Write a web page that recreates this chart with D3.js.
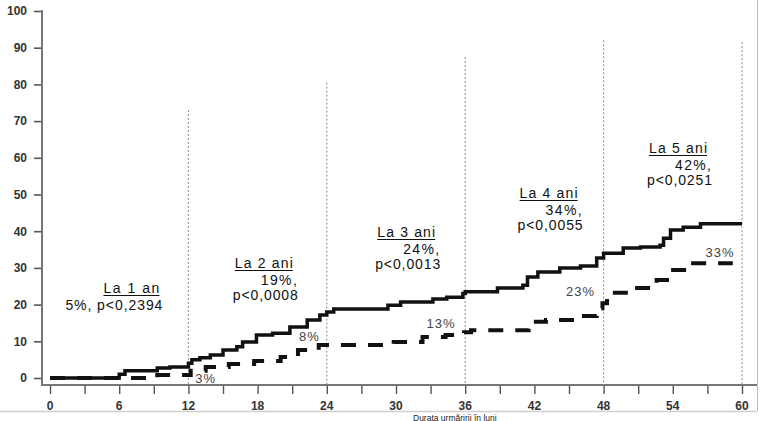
<!DOCTYPE html>
<html>
<head>
<meta charset="utf-8">
<script src="https://cdn.jsdelivr.net/npm/d3@7/dist/d3.min.js"></script>
<style>
  html, body { margin: 0; padding: 0; background: #fff; }
  svg { display: block; }
</style>
</head>
<body>
<svg id="chart" width="764" height="421"></svg>
<script>
// ---------- DATA ----------
const yTickValues = [0, 10, 20, 30, 40, 50, 60, 70, 80, 90, 100];
const xTickValues = [0, 3, 6, 9, 12, 15, 18, 21, 24, 27, 30, 33, 36, 39, 42, 45, 48, 51, 54, 57, 60];
const xLabelValues = [0, 6, 12, 18, 24, 30, 36, 42, 48, 54, 60];

// Solid curve (cumulative %, months)
const solidMonths = [0, 6, 6.5, 9.3, 10.4, 12, 12.3, 13, 13.9, 15, 16.2, 16.7, 17.9, 19.3, 20.8, 22.3, 23.4, 24, 24.6, 29.3, 30.4, 33.2, 34.4, 35.8, 36, 38.8, 41, 41.4, 42.3, 44.2, 46, 47.4, 48, 49.7, 51.2, 52.9, 53.2, 53.8, 54.9, 56.4, 60];
const solidValues = [0, 1, 2, 2.7, 3, 4, 5, 5.5, 6.3, 7.6, 8.5, 9.8, 11.7, 12.2, 13.9, 15.8, 17.2, 18, 18.8, 19.8, 20.7, 21.5, 22, 23, 23.5, 24.5, 25.3, 27.5, 28.9, 30, 30.5, 32.7, 34, 35.4, 35.7, 36.2, 38.1, 40.3, 41.1, 42, 42];

// Dashed curve
const dashedMonths = [0, 9.3, 12.2, 13.5, 15.5, 17.7, 20, 21.5, 23.3, 29.8, 32.3, 34.3, 35.9, 36.5, 41.5, 43, 45.7, 47.4, 47.9, 48.3, 50.5, 52.6, 53.8, 55.5, 59.2];
const dashedValues = [0, 0.8, 2, 3, 3.8, 4.6, 5.7, 7.6, 9, 9.8, 11.2, 11.7, 12.5, 13, 15.3, 15.8, 16.9, 19, 20.4, 23.2, 24.5, 26.7, 29.4, 31.3, 31.3];

// Milestone guide lines (month, top %)
const guideMonths = [12, 24, 36, 48, 60];
const guideTops = [73, 80.5, 87.5, 92, 91.5];

// Annotations per milestone
const annotTitles = ["La 1 an", "La 2 ani", "La 3 ani", "La 4 ani", "La 5 ani"];
const annotPct = ["5%,", "19%,", "24%,", "34%,", "42%,"];
const annotP = ["p<0,2394", "p<0,0008", "p<0,0013", "p<0,0055", "p<0,0251"];

// Percent labels of dashed curve
const dashLabels = ["3%", "8%", "13%", "23%", "33%"];
const dashLabelMonths = [13.5, 22.5, 33.9, 46, 58.1];
const dashLabelValues = [-1.4, 10, 13.5, 22.3, 33];

// ---------- DRAW ----------
const svg = d3.select("#chart");
const x = d3.scaleLinear().domain([0, 60]).range([50, 742]);
const y = d3.scaleLinear().domain([0, 100]).range([378, 11]);
const axisY = 385, axisX = 42;
const tickFont = "'Liberation Sans Narrow', 'Arial Narrow', 'Liberation Sans', sans-serif";
const txtFont = "'Liberation Sans', Arial, sans-serif";

// frame lines
svg.append("line").attr("x1", 0).attr("x2", 757).attr("y1", 411.5).attr("y2", 411.5)
  .attr("stroke", "#cfcfcf").attr("stroke-width", 1.5);
svg.append("line").attr("x1", 757.5).attr("x2", 757.5).attr("y1", 0).attr("y2", 411)
  .attr("stroke", "#bdbdbd").attr("stroke-width", 1);

// guide lines
svg.append("g").selectAll("line").data(guideMonths).join("line")
  .attr("x1", d => x(d)).attr("x2", d => x(d))
  .attr("y1", (d, i) => y(guideTops[i])).attr("y2", axisY)
  .attr("stroke", "#8a8a8a").attr("stroke-width", 1).attr("stroke-dasharray", "2,2");

// y axis
const gy = svg.append("g").attr("transform", `translate(${axisX},0)`)
  .call(d3.axisLeft(y).tickValues(yTickValues).tickSize(8).tickPadding(7));
gy.select(".domain").remove();
gy.selectAll(".tick line").attr("stroke", "#555").attr("stroke-width", 1.6);
gy.selectAll(".tick text").attr("font-family", tickFont).attr("font-weight", "bold")
  .attr("font-size", 12).attr("fill", "#333");
svg.append("line").attr("x1", axisX).attr("x2", axisX).attr("y1", 10).attr("y2", axisY + 1)
  .attr("stroke", "#777").attr("stroke-width", 2);

// x axis
const gx = svg.append("g").attr("transform", `translate(0,${axisY})`)
  .call(d3.axisBottom(x).tickValues(xTickValues).tickSize(9).tickFormat(""));
gx.select(".domain").remove();
gx.selectAll(".tick line").attr("stroke", "#555").attr("stroke-width", 1.4);
svg.append("line").attr("x1", axisX - 1).attr("x2", 757).attr("y1", axisY).attr("y2", axisY)
  .attr("stroke", "#777").attr("stroke-width", 2);
svg.append("g").selectAll("text").data(xLabelValues).join("text")
  .attr("x", d => x(d)).attr("y", 409.5).attr("text-anchor", "middle")
  .attr("font-family", tickFont).attr("font-weight", "bold").attr("font-size", 12)
  .attr("fill", "#333").text(d => d);

// curves
const line = d3.line().curve(d3.curveStepAfter).x(d => x(d[0])).y(d => y(d[1]));
const dashedData = dashedMonths.map((m, i) => [m, dashedValues[i]]);
const solidData = solidMonths.map((m, i) => [m, solidValues[i]]);
svg.append("path").datum(dashedData).attr("d", line).attr("fill", "none")
  .attr("stroke", "#111").attr("stroke-width", 4).attr("stroke-dasharray", "15,12");
svg.append("path").datum(solidData).attr("d", line).attr("fill", "none")
  .attr("stroke", "#111").attr("stroke-width", 3.5);

// dashed-curve labels
svg.append("g").selectAll("text").data(dashLabels).join("text")
  .attr("x", (d, i) => x(dashLabelMonths[i])).attr("y", (d, i) => y(dashLabelValues[i]))
  .attr("text-anchor", "middle").attr("font-family", tickFont).attr("font-size", 13)
  .attr("fill", "#444").attr("letter-spacing", 1).text(d => d);

// annotations: layout offsets relative to milestone guide
const annotRightOff = [-26, -29, -25, -21, -30];
const annotBase = [293, 268, 237, 198, 153];
const titleW = [56, 58, 58, 58, 58];
const g = svg.append("g").attr("font-family", txtFont).attr("font-size", 14).attr("fill", "#111");
annotTitles.forEach((t, i) => {
  const right = x(guideMonths[i]) + annotRightOff[i];
  const base = annotBase[i];
  if (i === 0) {
    const cx = right - 31;
    g.append("text").attr("x", cx).attr("y", base).attr("text-anchor", "middle")
      .attr("textLength", titleW[i]).attr("lengthAdjust", "spacing").text(t);
    g.append("line").attr("x1", cx - titleW[i] / 2).attr("x2", cx + titleW[i] / 2)
      .attr("y1", base + 2.5).attr("y2", base + 2.5).attr("stroke", "#111").attr("stroke-width", 1.2);
    g.append("text").attr("x", right).attr("y", base + 17).attr("text-anchor", "end")
      .attr("textLength", 97).attr("lengthAdjust", "spacing")
      .text(annotPct[i].replace(",", "") + ", " + annotP[i]);
  } else {
    const left = right - 65;
    const tl = left + 2;
    g.append("text").attr("x", tl).attr("y", base)
      .attr("textLength", titleW[i]).attr("lengthAdjust", "spacing").text(t);
    g.append("line").attr("x1", tl).attr("x2", tl + titleW[i])
      .attr("y1", base + 2.5).attr("y2", base + 2.5).attr("stroke", "#111").attr("stroke-width", 1.2);
    g.append("text").attr("x", right - 1).attr("y", base + 17).attr("text-anchor", "end")
      .attr("textLength", 36).attr("lengthAdjust", "spacing").text(annotPct[i]);
    g.append("text").attr("x", right).attr("y", base + 32).attr("text-anchor", "end")
      .attr("textLength", 65).attr("lengthAdjust", "spacing").text(annotP[i]);
  }
});

// axis title below frame (kept fully inside the picture)
svg.append("text").attr("x", 413).attr("y", 420.5).attr("font-family", txtFont)
  .attr("font-size", 8.5).attr("fill", "#222").text("Durata urmăririi în luni");
</script>
</body>
</html>
